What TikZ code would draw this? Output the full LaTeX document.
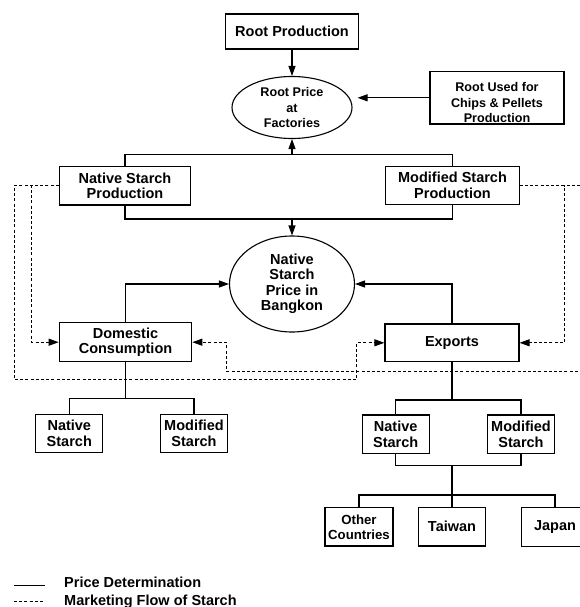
\documentclass[tikz,border=0pt]{standalone}
\usepackage{fontspec}
\setmainfont{Liberation Sans}
\usetikzlibrary{arrows.meta, shapes.geometric}
\newcommand{\lblfont}{\fontsize{14.5}{15.5}\selectfont\bfseries}
\newcommand{\lblsmall}{\fontsize{12.6}{15.5}\selectfont\bfseries}
\tikzset{
  box/.style      = {rectangle, draw, line width=1.2pt, align=center, inner sep=0pt, font=\lblfont},
  smallbox/.style = {box, minimum width=67pt, minimum height=38.5pt},
  oval/.style     = {ellipse, draw, line width=1.1pt, align=center, inner sep=0pt},
  link/.style     = {line width=1.1pt},
  price/.style    = {-{Triangle[length=10pt,width=7pt]}, line width=1.1pt},
  flow/.style     = {-{Triangle[length=10pt,width=7pt]}, line width=1pt, dash pattern=on 3pt off 2.2pt},
}

\begin{document}
\begin{tikzpicture}[x=1pt, y=-1pt]
\useasboundingbox (0,0) rectangle (579,607);

% ===== root price =====
\node[box, minimum width=133pt, minimum height=35pt] (rootprod) at (292,31.5) {Root Production};
\node[oval, font=\lblsmall, minimum width=120pt, minimum height=62pt] (rootprice) at (292,107.5) {Root Price\\at\\Factories};
\node[box, font=\lblsmall, minimum width=134pt, minimum height=52.4pt] (rootused) at (497,97.8) {\rule{0pt}{19pt}Root Used for\\Chips \& Pellets\\Production};

% ===== starch production and price =====
\node[box, minimum width=131.4pt, minimum height=38.3pt] (natprod) at (125,185.8) {Native Starch\\Production};
\node[box, minimum width=133.3pt, minimum height=37.6pt] (modprod) at (452.5,185.5) {Modified Starch\\Production};
\node[oval, font=\lblfont, minimum width=125pt, minimum height=96pt] (natprice) at (292,284) {Native\\Starch\\Price in\\Bangkon};
\node[box, minimum width=132.4pt, minimum height=39pt] (domestic) at (125.5,342.2) {Domestic\\Consumption};
\node[box, minimum width=134pt, minimum height=37.7pt] (exports) at (452,342.8) {Exports};

% ===== product and market boxes =====
\node[smallbox] (natdom) at (69.3,433.5) {Native\\Starch};
\node[smallbox] (moddom) at (194,433.5) {Modified\\Starch};
\node[smallbox] (natexp) at (395.7,434.2) {Native\\Starch};
\node[smallbox] (modexp) at (521,434.2) {Modified\\Starch};
\node[smallbox, minimum width=68pt, font=\fontsize{13.2}{15}\selectfont\bfseries] (other) at (359,526.8) {Other\\Countries};
\node[smallbox] (taiwan) at (452,526.8) {Taiwan};
\node[smallbox] (japan) at (555,527) {Japan};

% forks and bends
\coordinate (upfork) at (292,154.3);
\coordinate (downfork) at (292,219);
\coordinate (innerL) at (31.7,342.2);
\coordinate (outerL) at (14,379.3);
\coordinate (jogR) at (356.7,379.3);
\coordinate (innerR) at (564,342.8);
\coordinate (outerR) at (586,371);
\coordinate (jogL) at (226,371);
\coordinate (domfork) at (125.5,398.3);
\coordinate (expfork) at (452,400);
\coordinate (prodjoin) at (452,465.7);
\coordinate (cntfork) at (452,495);

% price determination
\draw[price] (rootprod) -- (rootprice);
\draw[price, shorten >=5pt] (rootused.west) -- (rootused.west -| rootprice.east);
\draw[link] (natprod.north) |- (upfork) -| (modprod.north);
\draw[price] (upfork) -- (rootprice.south);
\draw[link] (natprod.south) |- (downfork) -| (modprod.south);
\draw[price] (downfork) -- (natprice.north);
\draw[price] (domestic.north) |- (natprice.west);
\draw[price] (exports.north) |- (natprice.east);
\draw[link] (domestic.south) -- (domfork);
\draw[link] (natdom.north) |- (domfork) -| (moddom.north);
\draw[link] (exports.south) -- (expfork);
\draw[link] (natexp.north) |- (expfork) -| (modexp.north);
\draw[link] (natexp.south) |- (prodjoin) -| (modexp.south);
\draw[link] (prodjoin) -- (taiwan.north);
\draw[link] (other.north) |- (cntfork) -| (japan.north);

% marketing flow
\draw[flow] (natprod.west) -| (innerL) -- (domestic.west);
\draw[flow] (natprod.west) -| (outerL) -- (jogR) |- (exports.west);
\draw[flow] (modprod.east) -| (innerR) -- (exports.east);
\draw[flow] (modprod.east) -| (outerR) -- (jogL) |- (domestic.east);

% legend
\draw[link] (14,585.3) -- (45,585.3);
\node[anchor=base west, font=\lblfont] (legprice) at (60.7,587.7) {Price Determination};
\draw[flow, -] (14,601.7) -- (42.7,601.7);
\node[anchor=base west, font=\lblfont] (legflow) at (60.7,605) {Marketing Flow of Starch};

\end{tikzpicture}
\end{document}
